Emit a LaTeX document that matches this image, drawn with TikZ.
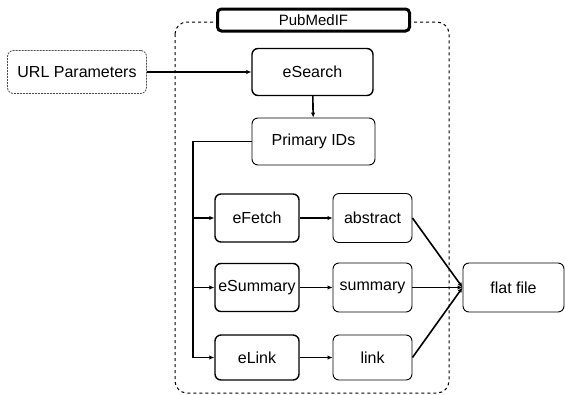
\documentclass[tikz,border=0pt]{standalone}
\usepackage{fontspec}
\setmainfont{Liberation Sans}
\usetikzlibrary{arrows.meta,positioning}
\begin{document}
\begin{tikzpicture}[x=1pt,y=-1pt,
  ebox/.style={draw=black,line width=1.4pt,rounded corners=6pt,minimum width=84pt,minimum height=48pt,inner sep=0pt,font=\fontsize{16}{18}\selectfont},
  obox/.style={draw=black,line width=0.9pt,rounded corners=6pt,inner sep=0pt,font=\fontsize{16}{18}\selectfont},
  conn/.style={line width=1.6pt,-{Latex[length=5pt,width=4.5pt]}},
  plain/.style={line width=1.6pt}
]
\useasboundingbox (0,0) rectangle (565,394);
% container
\draw[line width=1pt,dash pattern=on 3pt off 3pt,rounded corners=12pt] (175,22) rectangle (449,393);
\node[draw=black,line width=3pt,fill=white,rounded corners=4pt,minimum width=192pt,minimum height=22pt,inner sep=0pt,font=\fontsize{15}{16}\selectfont] (hdr) at (313.5,20) {PubMedIF};
% nodes
\node[draw=black!70,line width=0.8pt,dash pattern=on 2pt off 1pt,rounded corners=6pt,minimum width=139pt,minimum height=43pt,inner sep=0pt,font=\fontsize{16}{18}\selectfont] (url) at (77,72) {URL Parameters};
\node[ebox,minimum width=121pt,minimum height=47pt] (search) at (312.5,72) {eSearch};
\node[obox,minimum width=123pt,minimum height=47pt] (pid) at (313.5,141.5) {Primary IDs};
\node[ebox] (fetch) at (257,218) {eFetch};
\node[ebox] (summ) at (257,287.5) {eSummary};
\node[ebox,minimum height=45pt] (elink) at (257,357.5) {eLink};
\node[obox,minimum width=79pt,minimum height=49pt] (abs) at (372.5,218) {abstract};
\node[obox,minimum width=79pt,minimum height=49pt] (sum) at (372.5,287.5) {summary};
\node[obox,minimum width=79pt,minimum height=45pt] (lnk) at (372.5,357.5) {link};
\node[obox,minimum width=101pt,minimum height=49pt] (flat) at (513.5,287.5) {flat file};
% connectors
\draw[conn] (url) -- (search);
\draw[conn] (search) -- (pid);
\coordinate (bx) at (193,141.5);
\draw[plain] (pid.west) -- (bx) -- (193,357.5);
\draw[conn] (193,218) -- (fetch.west);
\draw[conn] (193,287.5) -- (summ.west);
\draw[conn] (193,357.5) -- (elink.west);
\draw[conn] (fetch) -- (abs);
\draw[conn] (summ) -- (sum);
\draw[conn] (elink) -- (lnk);
\draw[conn] (abs.east) -- (flat.west);
\draw[conn] (sum.east) -- (flat.west);
\draw[conn] (lnk.east) -- (flat.west);
\end{tikzpicture}
\end{document}
